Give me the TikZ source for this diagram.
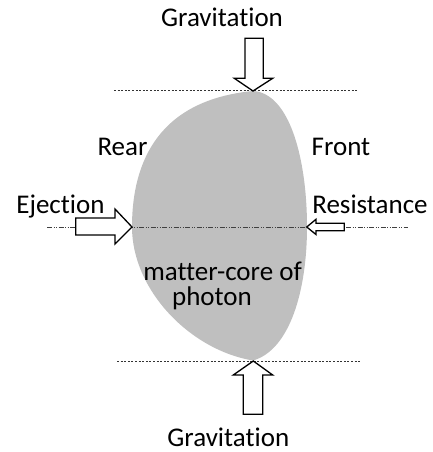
\documentclass[tikz,border=0pt]{standalone}
\usepackage{fontspec}
\setmainfont{Carlito}[Ligatures={NoCommon,NoRare,NoContextual}]
\begin{document}
\begin{tikzpicture}[x=1pt,y=-1pt,
  lbl/.style={anchor=base,inner sep=0pt,font=\fontsize{27}{32}\selectfont},
  blockarrow/.style={draw=black,fill=white,line width=1.3pt,line join=miter},
  dotline/.style={draw=black!80,line width=0.7pt,dash pattern=on 2pt off 1.6pt},
  axisline/.style={draw=black!75,line width=0.7pt,dash pattern=on 5pt off 1.5pt on 1pt off 1.5pt on 1pt off 1.5pt}]
\useasboundingbox (0,0) rectangle (433,452);
\definecolor{coregray}{RGB}{191,191,191}
% core shape
\coordinate (top) at (253,91);
\coordinate (bot) at (253,360.5);
\coordinate (left) at (132,227);
\coordinate (right) at (307,227);
\fill[coregray] (top) .. controls (160,100) and (132,160) .. (left)
  .. controls (132,290) and (190,350) .. (bot)
  .. controls (290,350) and (307,290) .. (right)
  .. controls (307,160) and (290,93) .. cycle;
% guide lines
\coordinate (tl) at (114,90.5); \coordinate (tr) at (358,90.5);
\coordinate (bl) at (117,361); \coordinate (br) at (361,361);
\coordinate (al) at (47,227); \coordinate (ar) at (408,227);
\draw[dotline] (tl) -- (tr);
\draw[dotline] (bl) -- (br);
\draw[axisline] (al) -- (ar);
% top arrow
\draw[blockarrow] (245,38.3) -- (263.3,38.3) -- (263.3,78.3) -- (272.7,78.3) -- (top)
  -- (234.3,78.3) -- (245,78.3) -- cycle;
% bottom arrow
\draw[blockarrow] (243.3,414.3) -- (262.7,414.3) -- (262.7,375) -- (272.7,375) -- (253.3,361)
  -- (233.3,375) -- (243.3,375) -- cycle;
% ejection arrow
\draw[blockarrow] (75.7,218) -- (115,218) -- (115,209) -- (left) -- (115,244)
  -- (115,235) -- (75.7,235) -- cycle;
% resistance arrow
\draw[blockarrow] (344.3,223.3) -- (316,223.3) -- (316,219.3) -- (306.7,227) -- (316,234.5)
  -- (316,230.7) -- (344.3,230.7) -- cycle;
% labels
\node[lbl] (gtop) at (222,26.5) {Gravitation};
\node[lbl] (gbot) at (228.3,446) {Gravitation};
\node[lbl] (rear) at (122.5,155) {Rear};
\node[lbl] (front) at (341,155) {Front};
\node[lbl] (eject) at (60.5,213.3) {Ejection};
\node[lbl] (resist) at (370,213.3) {Resistance};
\node[lbl] (core1) at (222.5,280) {matter-core of};
\node[lbl] (core2) at (212,305) {photon};
\end{tikzpicture}
\end{document}
